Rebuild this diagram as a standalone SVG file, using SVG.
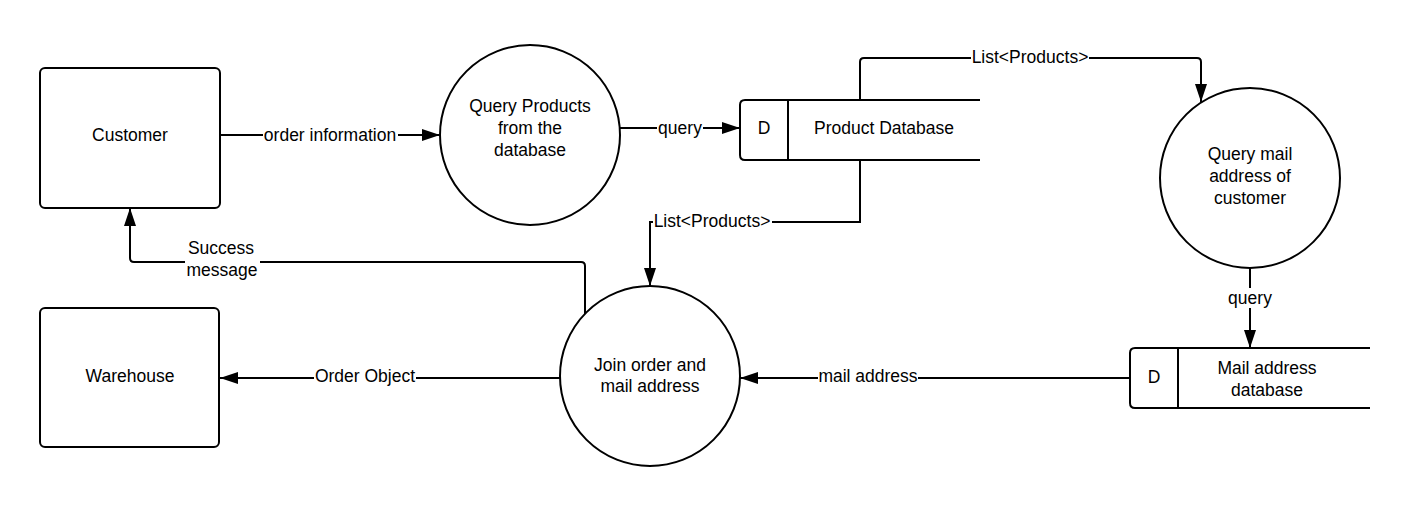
<svg xmlns="http://www.w3.org/2000/svg" width="1410" height="508" viewBox="0 0 1410 508">
<defs>
<marker id="ah" viewBox="0 0 18 12" refX="18" refY="6" markerWidth="18" markerHeight="12" markerUnits="userSpaceOnUse" orient="auto">
<path d="M0,0 L18,6 L0,12 Z" fill="#000"/>
</marker>
</defs>
<style>
.s{fill:#fff;stroke:#000;stroke-width:2}
.l{fill:none;stroke:#000;stroke-width:2}
.c{fill:none;stroke:#000;stroke-width:2;marker-end:url(#ah)}
text{font-family:"Liberation Sans",Arial,sans-serif;font-size:17.5px;fill:#000;text-anchor:middle;dominant-baseline:central}
.bg{fill:#fff;stroke:none}
</style>
<rect width="1410" height="508" fill="#fff"/>
<g id="connectors">
<path class="c" d="M220,135 L440,135"/>
<rect class="bg" x="263" y="125" width="135" height="20"/>
<text x="330" y="135">order information</text>
<path class="c" d="M620,128 L740,128"/>
<rect class="bg" x="657" y="118" width="46" height="20"/>
<text x="680" y="128">query</text>
<path class="c" d="M860,100 L860,62 Q860,58 864,58 L1197,58 Q1201,58 1201,62 L1201,102"/>
<rect class="bg" x="971" y="47" width="118" height="20"/>
<text x="1030" y="57">List&lt;Products&gt;</text>
<path class="c" d="M860,160 L860,222 L650,222 L650,286"/>
<rect class="bg" x="653" y="211" width="119" height="20"/>
<text x="712" y="221">List&lt;Products&gt;</text>
<path class="c" d="M1250,268 L1250,348"/>
<rect class="bg" x="1226" y="288" width="48" height="20"/>
<text x="1250" y="298">query</text>
<path class="c" d="M1130,378 L740,378"/>
<rect class="bg" x="818" y="366" width="100" height="20"/>
<text x="868" y="376">mail address</text>
<path class="c" d="M560,378 L220,378"/>
<rect class="bg" x="314" y="366" width="102" height="20"/>
<text x="365" y="376">Order Object</text>
<path class="c" d="M585,314 L585,266 Q585,262 581,262 L134,262 Q130,262 130,258 L130,208"/>
<rect class="bg" x="185" y="238" width="75" height="42"/>
<text x="221" y="248">Success</text>
<text x="222" y="270">message</text>
</g>
<g id="customer">
<rect class="s" x="40" y="68" width="180" height="140" rx="5"/>
<text x="130" y="135">Customer</text>
</g>
<g id="warehouse">
<rect class="s" x="40" y="308" width="179" height="139" rx="5"/>
<text x="130" y="376">Warehouse</text>
</g>
<g id="query-products">
<circle class="s" cx="530" cy="135" r="90"/>
<text x="530" y="106">Query Products</text>
<text x="530" y="128">from the</text>
<text x="530" y="150">database</text>
</g>
<g id="product-db">
<path class="l" d="M980,100 L745,100 Q740,100 740,105 L740,155 Q740,160 745,160 L980,160"/>
<path class="l" d="M788,100 L788,160"/>
<text x="764" y="128">D</text>
<text x="884" y="128">Product Database</text>
</g>
<g id="query-mail">
<circle class="s" cx="1250" cy="178" r="90"/>
<text x="1250" y="154">Query mail</text>
<text x="1250" y="176">address of</text>
<text x="1250" y="198">customer</text>
</g>
<g id="mail-db">
<path class="l" d="M1370,348 L1135,348 Q1130,348 1130,353 L1130,403 Q1130,408 1135,408 L1370,408"/>
<path class="l" d="M1178,348 L1178,408"/>
<text x="1154" y="377">D</text>
<text x="1267" y="368">Mail address</text>
<text x="1267" y="390">database</text>
</g>
<g id="join">
<circle class="s" cx="650" cy="376" r="90"/>
<text x="650" y="365">Join order and</text>
<text x="650" y="386">mail address</text>
</g>
</svg>
